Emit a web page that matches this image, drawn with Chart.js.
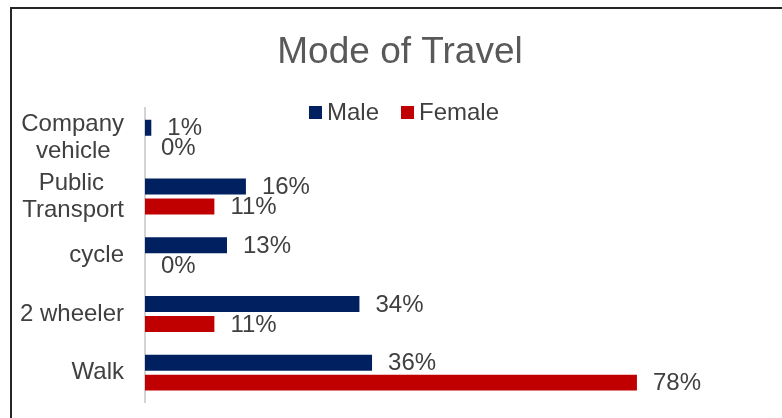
<!DOCTYPE html>
<html>
<head>
<meta charset="utf-8">
<title>Mode of Travel</title>
<script src="https://cdn.jsdelivr.net/npm/chart.js@4"></script>
<style>
  html, body { margin: 0; padding: 0; background: #fff; }
  #wrap { position: relative; width: 782px; height: 418px; }
</style>
</head>
<body>
<div id="wrap"><canvas id="travel"></canvas></div>
<script>
/* ---- data ---- */
// two-line labels: shorter line padded so it sits centred under the longer one
const modes = [["Company", "vehicle\u00a0\u00a0"], ["Public\u00a0\u00a0\u00a0", "Transport"], "cycle", "2 wheeler", "Walk"];
const male = [1, 16, 13, 34, 36];
const female = [0, 11, 0, 11, 78];

const NAVY = "#002060";
const RED = "#C00000";
const INK = "#404040";
const FONT = "'Liberation Sans', Arial, sans-serif";

// frame lines (top + left) and white backdrop
const frame = {
  id: "frame",
  beforeDraw(chart) {
    const c = chart.ctx;
    c.save();
    c.fillStyle = "#fff";
    c.fillRect(0, 0, chart.width, chart.height);
    c.strokeStyle = "#262626";
    c.lineWidth = 2;
    c.beginPath();
    c.moveTo(11, chart.height);
    c.lineTo(11, 8);
    c.lineTo(chart.width, 8);
    c.stroke();
    c.restore();
  },
};

// value labels just past the end of each bar
const valueLabels = {
  id: "valueLabels",
  afterDatasetsDraw(chart) {
    const c = chart.ctx;
    c.save();
    c.font = "24px " + FONT;
    c.fillStyle = INK;
    c.textAlign = "left";
    c.textBaseline = "middle";
    chart.data.datasets.forEach((ds, i) => {
      chart.getDatasetMeta(i).data.forEach((bar, j) => {
        c.fillText(ds.data[j] + "%", bar.x + 16, bar.y + 1);
      });
    });
    c.restore();
  },
};

// legend overlaid on top of the plot, Excel-style
const overlayLegend = {
  id: "overlayLegend",
  afterDraw(chart) {
    const c = chart.ctx;
    const box = 13, cy = 112.5, cx = 404;
    c.save();
    c.font = "24px " + FONT;
    c.textBaseline = "middle";
    const items = chart.data.datasets.map((d) => ({ label: d.label, color: d.backgroundColor, w: c.measureText(d.label).width }));
    const total = items.reduce((t, it) => t + box + 5 + it.w, 0) + 22 * (items.length - 1);
    let x = cx - total / 2;
    items.forEach((it) => {
      c.fillStyle = it.color;
      c.fillRect(x, cy - box / 2, box, box);
      c.fillStyle = INK;
      c.fillText(it.label, x + box + 5, cy + 1);
      x += box + 5 + it.w + 22;
    });
    c.restore();
  },
};

new Chart(document.getElementById("travel"), {
  type: "bar",
  data: {
    labels: modes,
    datasets: [
      { label: "Male", data: male, backgroundColor: NAVY },
      { label: "Female", data: female, backgroundColor: RED },
    ],
  },
  options: {
    indexAxis: "y",
    responsive: true,
    maintainAspectRatio: false,
    animation: false,
    categoryPercentage: 0.68,
    barPercentage: 0.8,
    layout: { padding: { left: 18, right: 0, top: 0, bottom: 16 } },
    scales: {
      x: { display: false, min: 0, max: 101 },
      y: {
        afterFit: (s) => { s.width = 127; s.paddingTop = 0; s.paddingBottom = 0; },
        grid: { display: false, drawTicks: false },
        border: { display: true, color: "#d4d4d4", width: 2 },
        ticks: { color: INK, padding: 21, font: { family: FONT, size: 24, lineHeight: 1.12 } },
      },
    },
    plugins: {
      legend: { display: false },
      tooltip: { enabled: false },
      title: {
        display: true,
        text: "Mode of Travel",
        color: "#595959",
        font: { family: FONT, size: 37, weight: "normal", lineHeight: 1.2 },
        padding: { top: 31, bottom: 33 },
      },
    },
  },
  plugins: [frame, valueLabels, overlayLegend],
});
</script>
</body>
</html>
